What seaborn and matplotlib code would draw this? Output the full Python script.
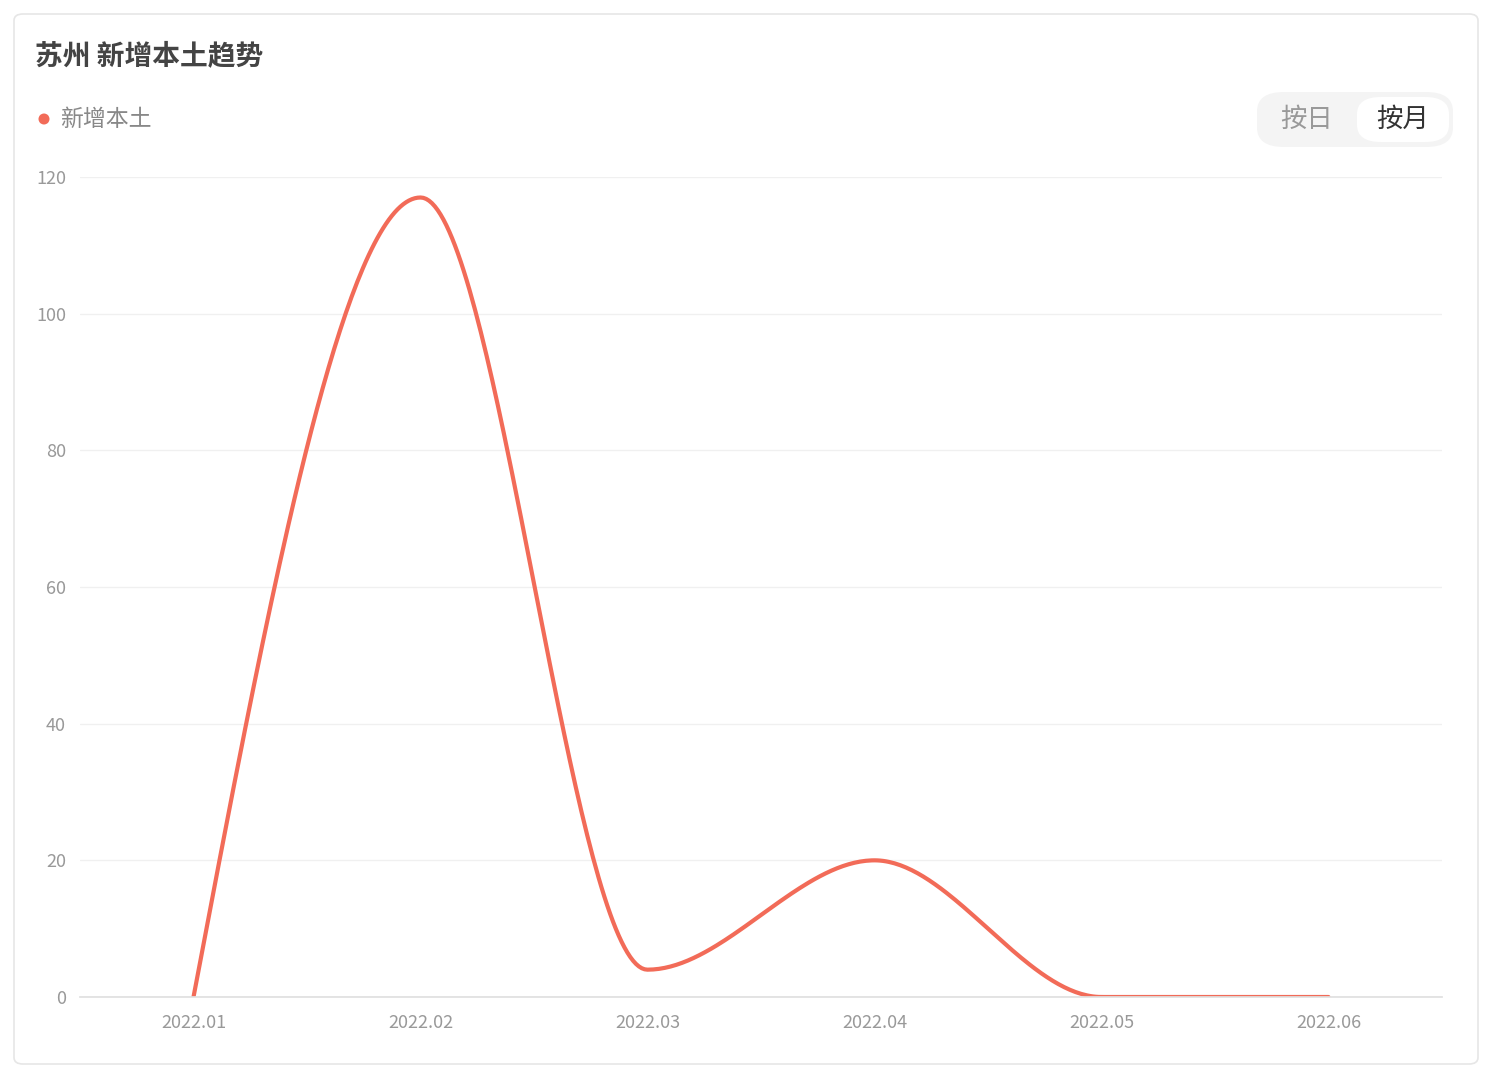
import numpy as np
import pandas as pd
import matplotlib
matplotlib.use("Agg")
import matplotlib.pyplot as plt
from matplotlib.patches import FancyBboxPatch, Ellipse
import seaborn as sns

months = ["2022.01", "2022.02", "2022.03", "2022.04", "2022.05", "2022.06"]
values = [0, 117, 4, 20, 0, 0]
series_name = "新增本土"
title = "苏州 新增本土趋势"

sns.set_theme(style="white")
plt.rcParams['font.family'] = ['Noto Sans CJK SC', 'DejaVu Sans']

W, H = 1496, 1074
fig = plt.figure(figsize=(W/100, H/100), dpi=100)
fig.patch.set_facecolor("white")

def fx(px): return px / W
def fy(py): return 1 - py / H

# card
fig.patches.append(FancyBboxPatch((fx(14), fy(1064)), fx(1464), (1050)/H,
    boxstyle="round,pad=0,rounding_size=0.006", transform=fig.transFigure,
    facecolor="white", edgecolor="#e6e6e6", linewidth=1.2, zorder=-10))

ax = fig.add_axes([fx(80), fy(997), fx(1442-80), (997-177)/H])
ax.set_zorder(5)

# monotone cubic (PCHIP) smoothing for rendering
x = np.arange(len(values), dtype=float)
y = np.array(values, dtype=float)
h = np.diff(x); d = np.diff(y) / h
m = np.zeros_like(y)
for i in range(1, len(y)-1):
    if d[i-1]*d[i] <= 0:
        m[i] = 0
    else:
        m[i] = 2/(1/d[i-1] + 1/d[i])
m[0] = d[0]*1.5
m[-1] = 0
xs, ys = [], []
for i in range(len(y)-1):
    t = np.linspace(0, 1, 80)
    h00 = 2*t**3-3*t**2+1; h10 = t**3-2*t**2+t; h01 = -2*t**3+3*t**2; h11 = t**3-t**2
    xs.append(x[i]+t*h[i]); ys.append(h00*y[i]+h10*h[i]*m[i]+h01*y[i+1]+h11*h[i]*m[i+1])
df = pd.DataFrame({"x": np.concatenate(xs), "y": np.concatenate(ys)})
sns.lineplot(data=df, x="x", y="y", ax=ax, color="#f26b58", linewidth=3, sort=False)

ax.set_xlim(-0.5, len(values)-0.5)
ax.set_ylim(0, 120)
ax.set_yticks([0, 20, 40, 60, 80, 100, 120])
ax.set_xticks(x)
ax.set_xticklabels(months)
ax.tick_params(axis="both", colors="#999999", labelsize=13, length=0, pad=12)
ax.tick_params(axis="y", pad=10)
ax.grid(axis="y", color="#f0f0f0", linewidth=1)
for s in ["top", "right", "left"]:
    ax.spines[s].set_visible(False)
ax.spines["bottom"].set_color("#e0e0e0")
ax.set_xlabel(""); ax.set_ylabel("")
ax.set_facecolor("none")

fig.text(fx(35), fy(56), title, fontsize=20, fontweight="bold", color="#444444", va="center")
fig.patches.append(Ellipse((fx(44), fy(119)), 11/W, 11/H, transform=fig.transFigure,
                           facecolor="#f26b58", edgecolor="none"))
fig.text(fx(60), fy(120), series_name, fontsize=16.5, color="#888888", va="center")

# toggle
fig.patches.append(FancyBboxPatch((fx(1257), fy(147)), fx(196), 55/H,
    boxstyle="round,pad=0,rounding_size=0.018", transform=fig.transFigure,
    facecolor="#f4f4f4", edgecolor="none"))
fig.patches.append(FancyBboxPatch((fx(1357), fy(142)), fx(92), 45/H,
    boxstyle="round,pad=0,rounding_size=0.016", transform=fig.transFigure,
    facecolor="white", edgecolor="none"))
fig.text(fx(1307), fy(119), "按日", fontsize=19, color="#999999", ha="center", va="center")
fig.text(fx(1403), fy(119), "按月", fontsize=19, color="#333333", ha="center", va="center")

fig.savefig("out.png", dpi=100)
